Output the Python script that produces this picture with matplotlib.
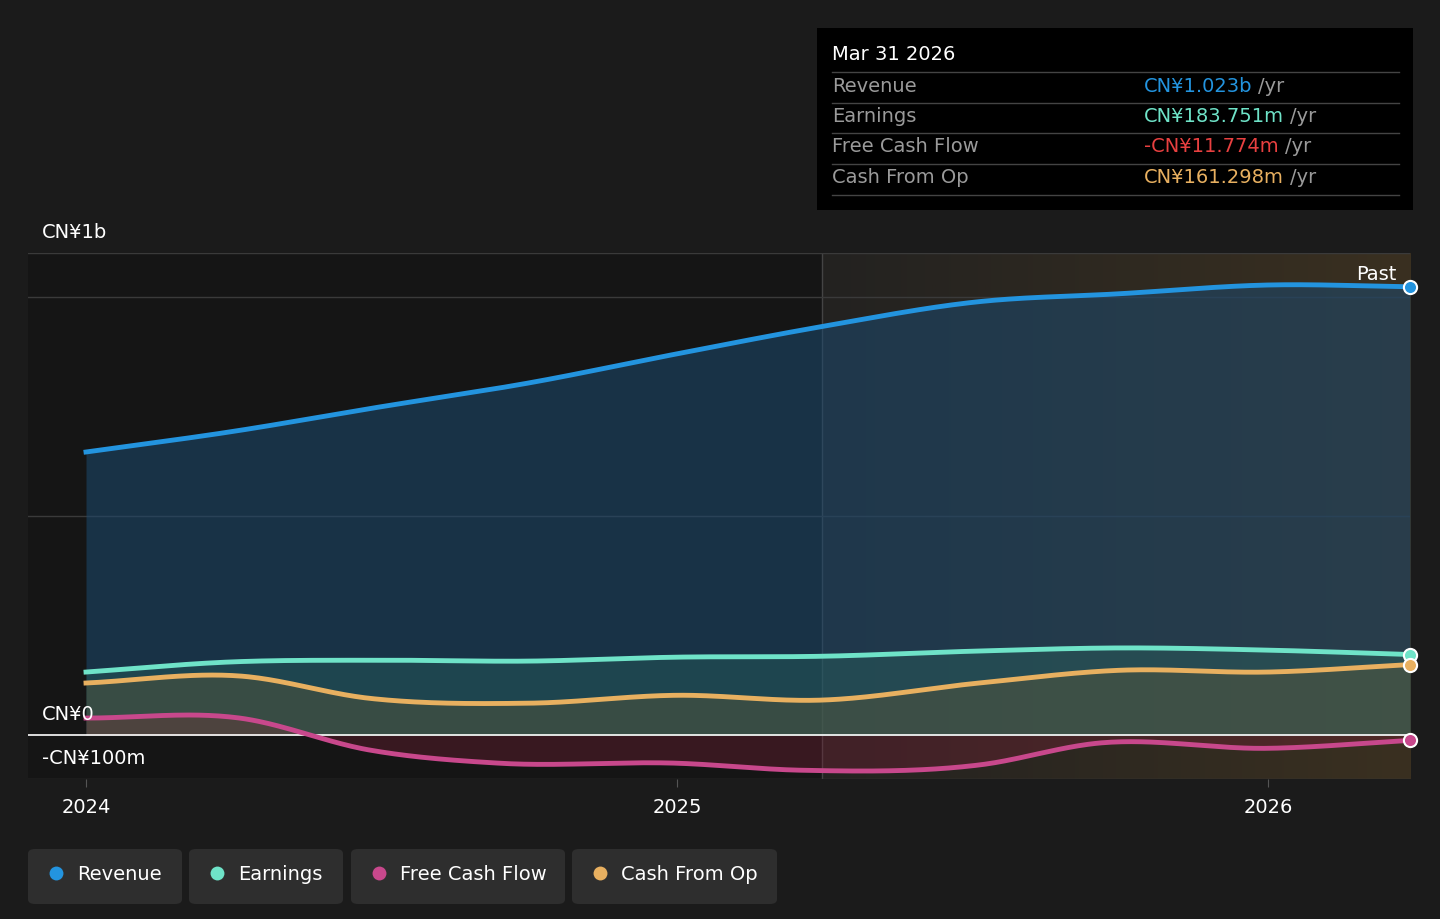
import numpy as np
import matplotlib.pyplot as plt
from matplotlib.patches import FancyBboxPatch, Rectangle

# data (year fraction, CN¥ billions)
years = [2024.0, 2024.244, 2024.498, 2024.751, 2025.0, 2025.244, 2025.511, 2025.748, 2026.0, 2026.24]
revenue = [0.646, 0.692, 0.749, 0.804, 0.870, 0.932, 0.989, 1.007, 1.027, 1.023]
earnings = [0.144, 0.167, 0.171, 0.169, 0.178, 0.180, 0.192, 0.199, 0.194, 0.184]
fcf_years = [2024.0, 2024.26, 2024.48, 2024.70, 2025.0, 2025.21, 2025.511, 2025.714, 2026.0, 2026.24]
fcf = [0.039, 0.039, -0.034, -0.064, -0.064, -0.080, -0.068, -0.018, -0.030, -0.012]
cfo_years = [2024.0, 2024.26, 2024.48, 2024.751, 2025.0, 2025.244, 2025.511, 2025.748, 2026.0, 2026.24]
cfo = [0.119, 0.135, 0.084, 0.073, 0.091, 0.080, 0.119, 0.148, 0.144, 0.161]
past_start = 2025.245

names = ["Revenue", "Earnings", "Free Cash Flow", "Cash From Op"]
colors = ["#2394df", "#6fe3c8", "#c8488c", "#e8b060"]

def smooth(xs, ys, n=400):
  # cubic hermite through the read points
  xs = np.array(xs); ys = np.array(ys)
  m = np.gradient(ys, xs)
  xx = np.linspace(xs[0], xs[-1], n)
  out = np.empty_like(xx)
  for k, x in enumerate(xx):
    i = min(np.searchsorted(xs, x, side='right') - 1, len(xs) - 2)
    h = xs[i+1] - xs[i]; t = (x - xs[i]) / h
    out[k] = ((2*t**3-3*t**2+1)*ys[i] + (t**3-2*t**2+t)*h*m[i]
              + (-2*t**3+3*t**2)*ys[i+1] + (t**3-t**2)*h*m[i+1])
  return xx, out

fig = plt.figure(figsize=(14.4, 9.19), dpi=100)
fig.patch.set_facecolor("#1b1b1b")
W, H = 1440, 919
ax = fig.add_axes([28/W, 1-779/H, (1410-28)/W, (779-253)/H])
ax.set_facecolor("#1b1b1b")
x0 = 2024 + (28-86)/591
ax.set_xlim(x0, 2026.24)
ax.set_ylim(-0.1, 1.1)
for s in ax.spines.values():
  s.set_visible(False)

ax.axvspan(x0, past_start, color="#151515", zorder=0)
# brownish gradient for the past region
grad = np.linspace(0, 1, 200).reshape(1, -1)
ax.imshow(grad, extent=[past_start, 2026.24, -0.1, 1.1], aspect='auto',
          cmap=plt.matplotlib.colors.LinearSegmentedColormap.from_list("g", ["#232220", "#3a3020"]),
          zorder=0.5)
ax.axvline(past_start, color="#444444", lw=1, zorder=1)
for yv in [0.5, 1.0, 1.1]:
  ax.axhline(yv, color="#3a3a3a", lw=1, zorder=1)
ax.axhline(-0.1, color="#3a3a3a", lw=1, zorder=1)

series = [(years, revenue), (years, earnings), (fcf_years, fcf), (cfo_years, cfo)]
fills = [("#1c4a70", 0.55), ("#2c6b60", 0.35), ("#7a2036", 0.35), ("#6a5a30", 0.35)]
for (xs, ys), c, (fc, fa) in zip(series, colors, fills):
  xx, yy = smooth(xs, ys)
  ax.fill_between(xx, 0, yy, color=fc, alpha=fa, lw=0, zorder=2)
  ax.plot(xx, yy, color=c, lw=3.5, zorder=4)
  ax.scatter([xs[-1]], [ys[-1]], s=90, color=c, edgecolor="white", lw=1.5, zorder=6, clip_on=False)
ax.axhline(0, color="white", lw=1.2, zorder=3)

ax.set_xticks([2024, 2025, 2026])
ax.set_xticklabels(["2024", "2025", "2026"], color="white", fontsize=14)
ax.tick_params(axis='x', length=6, color="#555555", pad=8)
ax.set_yticks([])
fig.text(42/W, 1-232/H, "CN¥1b", color="white", fontsize=14, va="center")
fig.text(42/W, 1-714/H, "CN¥0", color="white", fontsize=14, va="center")
fig.text(42/W, 1-758/H, "-CN¥100m", color="white", fontsize=14, va="center")
fig.text(1397/W, 1-274/H, "Past", color="white", fontsize=14, va="center", ha="right")

# tooltip
fig.patches.append(Rectangle((817/W, 1-210/H), 596/W, 182/H, transform=fig.transFigure,
                             facecolor="black", edgecolor="none"))
fig.text(832/W, 1-55/H, "Mar 31 2026", color="white", fontsize=14, va="center")
vals = ["CN¥1.023b", "CN¥183.751m", "-CN¥11.774m", "CN¥161.298m"]
vcols = ["#2394df", "#6fe3c8", "#e84040", "#e8b060"]
for i, (n, v, vc) in enumerate(zip(names, vals, vcols)):
  y = 86 + i*30.5
  fig.add_artist(plt.Line2D([832/W, 1399/W], [1-(y-14)/H]*2, color="#444444", lw=1))
  fig.text(832/W, 1-y/H, n, color="#9a9a9a", fontsize=14, va="center")
  t = fig.text(1144/W, 1-y/H, v, color=vc, fontsize=14, va="center")
  fig.canvas.draw()
  bb = t.get_window_extent()
  fig.text(bb.x1/W + 6/W, 1-y/H, "/yr", color="#9a9a9a", fontsize=14, va="center")
fig.add_artist(plt.Line2D([832/W, 1399/W], [1-195/H]*2, color="#444444", lw=1))

# legend buttons
lx = [28, 189, 351, 572]
lw_ = [154, 154, 214, 205]
for x, w, n, c in zip(lx, lw_, names, colors):
  fig.patches.append(FancyBboxPatch((x/W, 1-904/H), w/W, 55/H, transform=fig.transFigure,
                                    boxstyle="round,pad=0,rounding_size=0.005",
                                    facecolor="#2e2e2e", edgecolor="none"))
  fig.add_artist(plt.Line2D([(x+28)/W], [1-873/H], marker="o", ms=10, color=c, mec="none"))
  fig.text((x+49)/W, 1-874/H, n, color="white", fontsize=14, va="center")

fig.savefig("out.png", dpi=100, facecolor=fig.get_facecolor())
